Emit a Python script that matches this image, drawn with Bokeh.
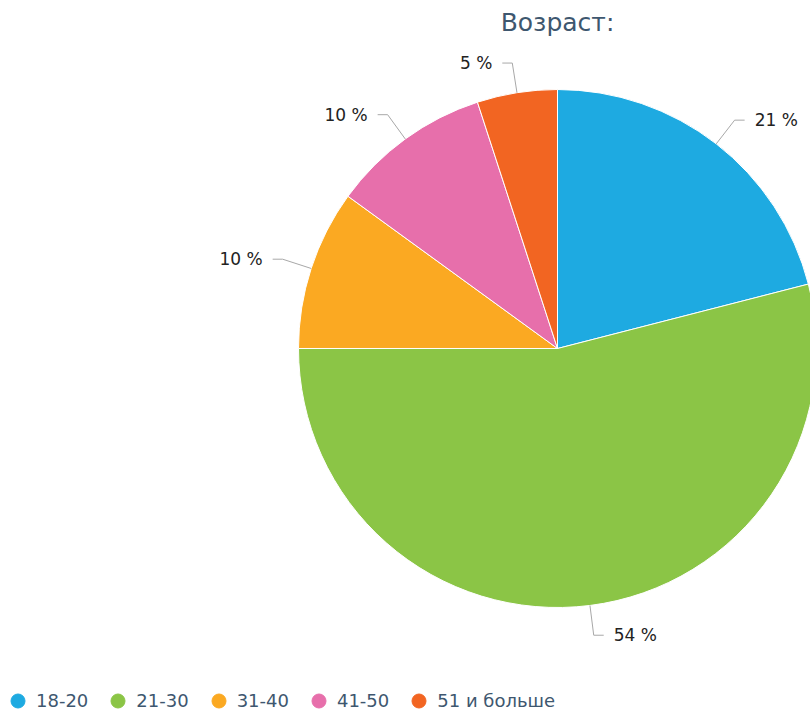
import math
from bokeh.plotting import figure
from bokeh.models import ColumnDataSource, Legend, LegendItem
from bokeh.core.properties import value
from bokeh.embed import file_html
from bokeh.resources import INLINE

title_text = "Возраст:"
categories = ["18-20", "21-30", "31-40", "41-50", "51 и больше"]
percents = [21, 54, 10, 10, 5]
colors = ["#1eaae1", "#8bc546", "#fba922", "#e76fab", "#f26522"]

W, H = 810, 716
CX, CY, R = 557, 368, 259
ELBOW = 30
HSEG = 10
GAP = 10
FONT = "DejaVu Sans"

p = figure(width=W, height=H, x_range=(0, W), y_range=(0, H),
           output_backend="svg", toolbar_location=None, min_border=0)
p.axis.visible = False
p.grid.visible = False
p.outline_line_color = None
p.background_fill_color = "white"

total = sum(percents)
starts, ends, mids = [], [], []
cum = 0.0
for v in percents:
    a0 = math.pi / 2 - 2 * math.pi * cum / total
    cum += v
    a1 = math.pi / 2 - 2 * math.pi * cum / total
    starts.append(a0)
    ends.append(a1)
    mids.append((a0 + a1) / 2)

src = ColumnDataSource(dict(start=starts, end=ends, color=colors, cat=categories))
p.wedge(x=CX, y=CY, radius=R, start_angle="start", end_angle="end",
        direction="clock", fill_color="color", line_color="white",
        line_width=1, source=src)

# connectors and labels
xs, ys, lx, ly, lt, la = [], [], [], [], [], []
for m, v in zip(mids, percents):
    ex, ey = CX + R * math.cos(m), CY + R * math.sin(m)
    bx, by = CX + (R + ELBOW) * math.cos(m), CY + (R + ELBOW) * math.sin(m)
    side = 1 if math.cos(m) >= 0 else -1
    hx = bx + side * HSEG
    xs.append([ex, bx, hx])
    ys.append([ey, by, by])
    lx.append(hx + side * GAP)
    ly.append(by)
    lt.append(f"{v} %")
    la.append("left" if side > 0 else "right")

p.multi_line(xs=xs, ys=ys, line_color="#a8a8a8", line_width=1)
p.text(x=lx, y=ly, text=lt, text_align=la, text_baseline="middle",
       text_font=value(FONT), text_font_size="17px", text_color="#222222")

# title centered over pie
p.text(x=[CX], y=[H - 22], text=[title_text], text_align="center",
       text_baseline="middle", text_font=value(FONT), text_font_size="25px",
       text_color="#3e576f")

# legend
nan = float("nan")
items = []
for c, cat in zip(colors, categories):
    r = p.scatter(x=[nan], y=[nan], marker="circle", size=14, fill_color=c, line_color=c)
    items.append(LegendItem(label=cat, renderers=[r]))
legend = Legend(items=items, orientation="horizontal", location=(0, -2),
                label_text_font=FONT, label_text_font_size="18px",
                label_text_color="#3e576f", glyph_width=35, glyph_height=35,
                label_height=20, spacing=12, padding=0, margin=0, label_standoff=1,
                border_line_color=None, background_fill_alpha=0)
p.add_layout(legend)

open("out.html", "w").write(file_html(p, INLINE))
